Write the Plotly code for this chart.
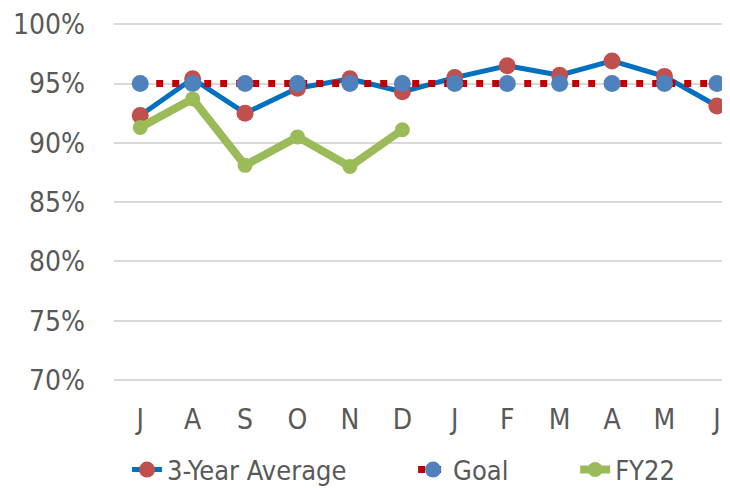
import plotly.graph_objects as go

months = ["J", "A", "S", "O", "N", "D", "J", "F", "M", "A", "M", "J"]
avg3 = [92.3, 95.4, 92.5, 94.6, 95.4, 94.3, 95.5, 96.5, 95.7, 96.9, 95.6, 93.1]
goal = [95] * 12
fy22 = [91.3, 93.7, 88.1, 90.5, 88.0, 91.1]
yticks = [70, 75, 80, 85, 90, 95, 100]
ylabels = [f"{v}%" for v in yticks]
series_names = ["3-Year Average", "Goal", "FY22"]

x = list(range(len(months)))
font = "DejaVu Sans Condensed, Liberation Sans Narrow, sans-serif"
grey = "#595959"
pad = "\u00a0" * 8

fig = go.Figure()
fig.add_trace(go.Scatter(
    x=x, y=avg3, name=series_names[0] + pad, mode="lines+markers",
    line=dict(color="#0070C0", width=5),
    marker=dict(color="#C0504D", size=17),
))
fig.add_trace(go.Scatter(
    x=x, y=goal, name=series_names[1] + pad, mode="lines+markers",
    line=dict(color="#C00000", width=7, dash="7px,9px"),
    marker=dict(color="#4F81BD", size=17),
))
fig.add_trace(go.Scatter(
    x=x[:len(fy22)], y=fy22, name=series_names[2], mode="lines+markers",
    line=dict(color="#9BBB59", width=8),
    marker=dict(color="#9BBB59", size=15),
))

# page body has an 8px default margin; compensate
fig.update_layout(
    width=722, height=480,
    margin=dict(l=106, r=0, t=15, b=102, autoexpand=False),
    plot_bgcolor="white", paper_bgcolor="white",
    font=dict(family=font, color=grey, size=26),
    showlegend=True,
    legend=dict(orientation="h", x=0.47, xanchor="center",
                yref="container", y=0.0375, yanchor="middle",
                font=dict(size=27, color=grey), tracegroupgap=0),
)
fig.update_xaxes(
    tickmode="array", tickvals=x, ticktext=months,
    range=[-0.5, 11.25], showgrid=False, zeroline=False, showline=False,
    ticks="", tickfont=dict(size=28, color=grey), ticklabelstandoff=14,
    ticklabeloverflow="allow",
)
fig.update_yaxes(
    range=[69.5, 100.1], tickmode="array", tickvals=yticks, ticktext=ylabels,
    showgrid=True, gridcolor="#D9D9D9", gridwidth=2, zeroline=False,
    showline=False, tickfont=dict(size=28, color=grey),
    ticks="", ticklabelstandoff=28, ticklabeloverflow="allow",
)
fig.write_html("out.html")
